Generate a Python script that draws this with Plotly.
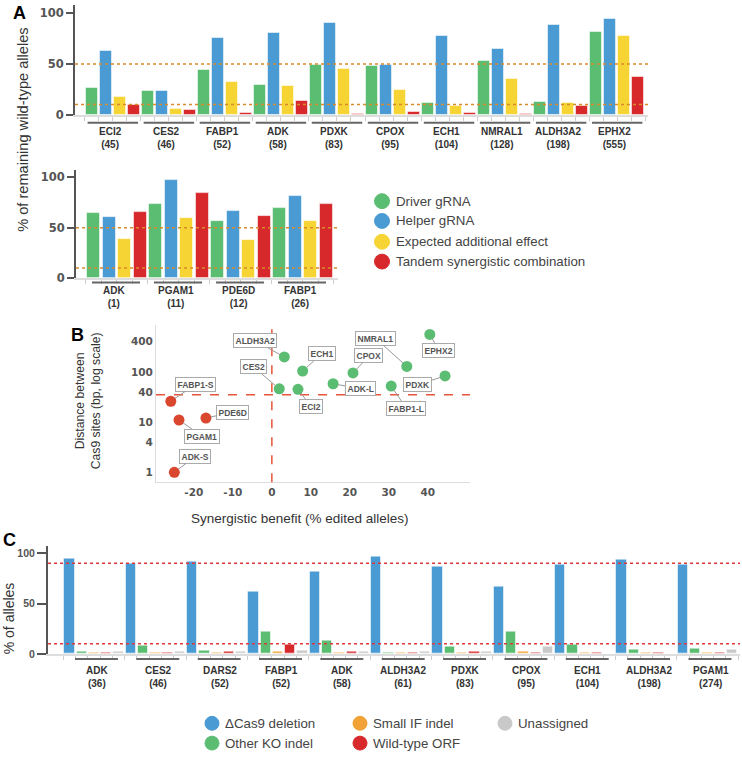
import math
import plotly.graph_objects as go

W, H = 742, 761

# ---- Panel A, top: tandem gRNAs >= 45 bp apart ----
A1_GENES = ["ECI2", "CES2", "FABP1", "ADK", "PDXK", "CPOX", "ECH1", "NMRAL1", "ALDH3A2", "EPHX2"]
A1_DIST = [45, 46, 52, 58, 83, 95, 104, 128, 198, 555]
A1_DRIVER = [26.7, 23.8, 43.6, 29.7, 48.8, 47.6, 11.4, 53.4, 12.7, 81.4]
A1_HELPER = [62.5, 23.8, 75.9, 80.5, 90.2, 48.8, 77.5, 64.8, 88.6, 94.1]
A1_EXPECTED = [17.0, 5.9, 32.6, 28.3, 44.6, 24.1, 8.8, 34.9, 11.4, 77.5]
A1_TANDEM = [10.0, 4.3, 1.7, 13.0, 0.7, 2.9, 1.7, 0.7, 8.8, 36.8]

# ---- Panel A, bottom: tandem gRNAs close together ----
A2_GENES = ["ADK", "PGAM1", "PDE6D", "FABP1"]
A2_DIST = [1, 11, 12, 26]
A2_DRIVER = [64.3, 73.8, 56.7, 69.5]
A2_HELPER = [60.4, 97.0, 66.9, 81.3]
A2_EXPECTED = [38.4, 59.7, 37.4, 56.7]
A2_TANDEM = [65.6, 84.6, 61.4, 73.8]

A_NAMES = ["Driver gRNA", "Helper gRNA", "Expected additional effect", "Tandem synergistic combination"]
A_REF_LINES = [50, 10]

# ---- Panel B: synergy vs distance ----
B_LABELS = ["FABP1-S", "PGAM1", "PDE6D", "ADK-S", "ALDH3A2", "ECH1", "CES2", "ECI2",
            "ADK-L", "CPOX", "FABP1-L", "NMRAL1", "PDXK", "EPHX2"]
B_BENEFIT = [-25.9, -23.8, -16.9, -25.0, 3.2, 7.9, 1.9, 6.7, 15.7, 20.8, 30.6, 34.6, 44.4, 40.5]
B_DIST = [26, 11, 12, 1, 198, 104, 46, 45, 58, 95, 52, 128, 83, 555]
B_X_TICKS = [-20, -10, 0, 10, 20, 30, 40]
B_Y_TICKS = [1, 4, 10, 40, 100, 400]
B_DIST_CUTOFF = 35

# ---- Panel C: allele outcomes ----
C_GENES = ["ADK", "CES2", "DARS2", "FABP1", "ADK", "ALDH3A2", "PDXK", "CPOX", "ECH1", "ALDH3A2", "PGAM1"]
C_DIST = [36, 46, 52, 52, 58, 61, 83, 95, 104, 198, 274]
C_DELETION = [94.4, 89.2, 91.4, 62.2, 81.3, 96.1, 86.5, 66.6, 88.8, 93.4, 88.8]
C_OTHER_KO = [2.0, 7.9, 2.9, 22.6, 12.8, 1.0, 6.9, 22.6, 9.2, 3.9, 4.9]
C_SMALL_IF = [1.0, 1.0, 1.0, 2.5, 1.0, 1.0, 1.0, 2.2, 1.0, 1.0, 1.0]
C_WILD_TYPE = [1.0, 1.0, 2.0, 9.2, 2.0, 1.0, 2.2, 1.0, 1.0, 1.0, 1.0]
C_UNASSIGNED = [2.0, 2.0, 2.0, 2.9, 2.0, 2.6, 2.6, 6.9, 0.5, 0.5, 3.9]
C_NAMES = ["ΔCas9 deletion", "Other KO indel", "Small IF indel", "Wild-type ORF", "Unassigned"]
C_REF_LINES = [90, 10]

GREEN, BLUE, YELLOW, RED = "#5bbd72", "#4a9bd4", "#f6d433", "#d7282b"
ORANGE, GREY = "#f0a236", "#c9c9c9"
B_RED = "#d9472f"
TXT = "#444"
FONT = "Liberation Sans"
TICK_A = dict(family="DejaVu Sans", size=11.5, color="#555")
TICK_B = dict(family="DejaVu Sans", size=10.5, color="#555")
TICK_C = dict(family=FONT, size=10.5, color="#555")


# layout helpers: convert page pixels to paper coordinates
def px(x):
    return x / W


def py(y):
    return 1 - y / H


def xdom(left, right):
    return [px(left), px(right)]


def ydom(top, bottom):
    return [py(bottom), py(top)]


def bold(v):
    return f"<b>{v}</b>"


fig = go.Figure()
shapes, annotations = [], []


def grouped_bars(series, colors, xa, ya, width=0.84):
    n = len(series)
    for j, (vals, col) in enumerate(zip(series, colors)):
        fig.add_trace(go.Bar(
            x=[g * n + j for g in range(len(vals))], y=vals, width=width,
            marker=dict(color=col, line=dict(color="rgba(255,255,255,0.55)", width=1)),
            xaxis=xa, yaxis=ya, showlegend=False, hoverinfo="y"))


def group_labels(genes, dists, n, xa, line_y, text_top, u0, u1, lab):
    for g, (gene, d) in enumerate(zip(genes, dists)):
        shapes.append(dict(type="line", xref=xa, yref="paper",
                           x0=g * n + u0, x1=g * n + u1, y0=py(line_y), y1=py(line_y),
                           line=dict(color="#666", width=2)))
        annotations.append(dict(xref=xa, yref="paper", x=g * n + lab, y=py(text_top),
                                xanchor="center", yanchor="top", showarrow=False,
                                text=f"{bold(gene)}<br>{bold('(' + str(d) + ')')}",
                                font=dict(family=FONT, size=10, color="#333")))


def ref_lines(vals, xa, ya, color):
    for v in vals:
        shapes.append(dict(type="line", xref=f"{xa} domain", yref=ya, x0=0, x1=1, y0=v, y1=v,
                           line=dict(color=color, width=1.5, dash="dot")))


def bar_axes(n_bars, tickfont):
    xa = dict(showline=True, linecolor="#ddd", linewidth=2, ticks="outside", ticklen=4,
              tickcolor="#ccc", tickvals=[k - 0.5 for k in range(n_bars + 1)],
              showticklabels=False, showgrid=False, zeroline=False)
    ya = dict(showline=True, linecolor="#555", linewidth=2, ticks="outside", ticklen=7,
              tickwidth=2, tickcolor="#555", tickvals=[0, 50, 100],
              ticktext=[bold(v) for v in [0, 50, 100]], tickfont=tickfont,
              showgrid=False, zeroline=False)
    return xa, ya


def text(s, x, y, size, color=TXT, angle=0, xanchor="center"):
    annotations.append(dict(xref="paper", yref="paper", x=px(x), y=py(y), showarrow=False,
                            xanchor=xanchor, yanchor="middle", text=s, textangle=angle,
                            font=dict(family=FONT, size=size, color=color)))


# Panel A top
grouped_bars([A1_DRIVER, A1_HELPER, A1_EXPECTED, A1_TANDEM], [GREEN, BLUE, YELLOW, RED], "x", "y")
group_labels(A1_GENES, A1_DIST, 4, "x", 124, 125, -0.3, 3.3, 1.3)
ref_lines(A_REF_LINES, "x", "y", "#d98a2b")

# Panel A bottom
grouped_bars([A2_DRIVER, A2_HELPER, A2_EXPECTED, A2_TANDEM], [GREEN, BLUE, YELLOW, RED], "x2", "y2")
group_labels(A2_GENES, A2_DIST, 4, "x2", 285, 286, -0.1, 3.0, 1.35)
ref_lines(A_REF_LINES, "x2", "y2", "#d98a2b")

# Panel C
grouped_bars([C_DELETION, C_OTHER_KO, C_SMALL_IF, C_WILD_TYPE, C_UNASSIGNED],
             [BLUE, GREEN, ORANGE, RED, GREY], "x4", "y4")
group_labels(C_GENES, C_DIST, 5, "x4", 665, 669, 0.45, 3.95, 2.25)
ref_lines(C_REF_LINES, "x4", "y4", "#e0383a")

# Panel B scatter
b_colors = [B_RED if b < 0 else GREEN for b in B_BENEFIT]
fig.add_trace(go.Scatter(x=B_BENEFIT, y=B_DIST, mode="markers", text=B_LABELS,
                         marker=dict(color=b_colors, size=11), xaxis="x3", yaxis="y3",
                         showlegend=False, hoverinfo="text"))

B_LOG_RANGE = [-0.197, 2.933]
shapes.append(dict(type="line", xref="x3", yref="y3 domain", x0=0, x1=0, y0=0, y1=1,
                   line=dict(color="#e8553a", width=1.5, dash="dash")))
cut = (math.log10(B_DIST_CUTOFF) - B_LOG_RANGE[0]) / (B_LOG_RANGE[1] - B_LOG_RANGE[0])
shapes.append(dict(type="line", xref="x3 domain", yref="y3 domain", x0=0, x1=1, y0=cut, y1=cut,
                   line=dict(color="#e8553a", width=1.5, dash="dash")))

# label box offsets (pixels) for the callouts
B_OFFSETS = {
    "FABP1-S": (25, -17), "PGAM1": (23, 16), "PDE6D": (27, -6), "ADK-S": (21, -16),
    "ALDH3A2": (-29, -16), "ECH1": (19, -17), "CES2": (-26, -22), "ECI2": (13, 17),
    "ADK-L": (27, 5), "CPOX": (16, -17), "FABP1-L": (15, 22), "NMRAL1": (-31, -28),
    "PDXK": (-28, 9), "EPHX2": (9, 16),
}
for lab, bx, bd in zip(B_LABELS, B_BENEFIT, B_DIST):
    ax, ay = B_OFFSETS[lab]
    annotations.append(dict(xref="x3", yref="y3", x=bx, y=math.log10(bd), ax=ax, ay=ay,
                            text=bold(lab), showarrow=True, arrowhead=0, arrowwidth=1,
                            arrowcolor="#999", standoff=5, bgcolor="white",
                            bordercolor="#aaa", borderwidth=1, borderpad=1.5,
                            font=dict(family=FONT, size=8.5, color="#555")))

# panel letters and axis titles
for letter, x, y in [("A", 19, 13), ("B", 77, 338), ("C", 9, 545)]:
    text(bold(letter), x, y, 18, color="black")

text("% of remaining wild-type alleles", 23, 131, 14.6, color="#333", angle=-90)
text("Distance between<br>Cas9 sites (bp, log scale)", 88, 405, 12.2, color="#333", angle=-90)
text("Synergistic benefit (% edited alleles)", 300, 523, 13.5, color="#333")
text("% of alleles", 9, 624, 14, color="#333", angle=-90)


# legends drawn as circles + text
def legend_item(name, color, cx, cy, r, tx):
    shapes.append(dict(type="circle", xref="paper", yref="paper",
                       x0=px(cx - r), x1=px(cx + r), y0=py(cy + r), y1=py(cy - r),
                       fillcolor=color, line=dict(color=color, width=1)))
    text(name, tx, cy, 13.3, xanchor="left")


for name, col, cy in zip(A_NAMES, [GREEN, BLUE, YELLOW, RED], [203, 223, 244, 264]):
    legend_item(name, col, 382, cy, 7.5, 394)

c_pos = [(212, 730, 223), (212, 750, 223), (360, 730, 371), (360, 750, 371), (505, 730, 516)]
for name, col, (cx, cy, tx) in zip(C_NAMES, [BLUE, GREEN, ORANGE, RED, GREY], c_pos):
    legend_item(name, col, cx, cy, 7, tx)

xa1, ya1 = bar_axes(len(A1_GENES) * 4, TICK_A)
xa2, ya2 = bar_axes(len(A2_GENES) * 4, TICK_A)
xa4, ya4 = bar_axes(len(C_GENES) * 5, TICK_C)
ya4["ticklen"] = 9

fig.update_layout(
    width=W, height=H, margin=dict(l=0, r=0, t=0, b=0),
    paper_bgcolor="white", plot_bgcolor="white", showlegend=False,
    font=dict(family=FONT), bargap=0, hovermode=False,
    xaxis=dict(xa1, domain=xdom(75, 648), range=[-1.2, 39.7], anchor="y"),
    yaxis=dict(ya1, domain=ydom(5, 115.7), range=[0, 108.1], anchor="x"),
    xaxis2=dict(xa2, domain=xdom(76, 338), range=[-1.13, 15.77], anchor="y2"),
    yaxis2=dict(ya2, domain=ydom(171.7, 280.7), range=[0, 107.2], anchor="x2"),
    xaxis3=dict(domain=xdom(156, 470), range=[-29.7, 50.8], anchor="y3",
                showline=True, linecolor="#ddd", linewidth=1, ticks="",
                tickvals=B_X_TICKS, ticktext=[bold(v) for v in B_X_TICKS],
                tickfont=TICK_B, showgrid=False, zeroline=False),
    yaxis3=dict(type="log", domain=ydom(328, 486.7), range=B_LOG_RANGE, anchor="x3",
                showline=True, linecolor="#ddd", linewidth=1, ticks="",
                tickvals=B_Y_TICKS, ticktext=[bold(v) for v in B_Y_TICKS],
                tickfont=TICK_B, showgrid=False, zeroline=False),
    xaxis4=dict(xa4, domain=xdom(48, 740), range=[-1.75, 54.65], anchor="y4"),
    yaxis4=dict(ya4, domain=ydom(550.7, 660), range=[0, 107.5], anchor="x4"),
    shapes=shapes, annotations=annotations,
)

# the page body has a default 8px margin; drop it so the figure sits at the window origin
fig.write_html("out.html", config={"displayModeBar": False},
               post_script="document.body.style.margin='0';")
